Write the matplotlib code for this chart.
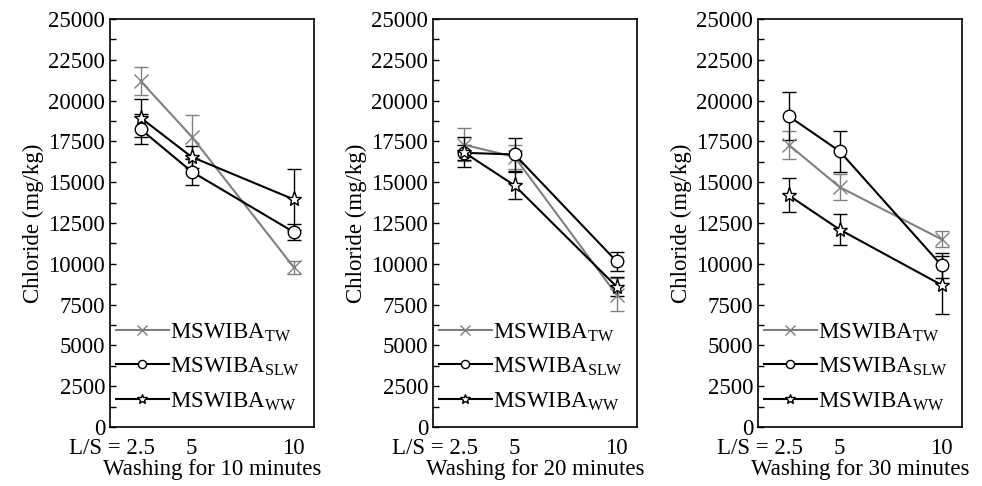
import numpy as np
import matplotlib
matplotlib.use("Agg")
import matplotlib.pyplot as plt
from matplotlib.ticker import MultipleLocator
from matplotlib.transforms import ScaledTranslation
from matplotlib.lines import Line2D

plt.rcParams['font.family'] = ['Liberation Serif', 'DejaVu Serif']
plt.rcParams['mathtext.fontset'] = 'custom'
plt.rcParams['mathtext.rm'] = 'Liberation Serif'
plt.rcParams['font.size'] = 16.5

# L/S ratios
ls_ratio = [2.5, 5, 10]
tick_labels = ['L/S = 2.5', '5', '10']
wash_times = [10, 20, 30]

# chloride (mg/kg) and error bars, one list per panel (10, 20, 30 min)
tw_vals = [[21200, 17800, 9800], [17300, 16550, 8100], [17300, 14700, 11500]]
tw_err = [[850, 1300, 400], [1000, 750, 1000], [850, 800, 500]]
slw_vals = [[18250, 15650, 11950], [16800, 16700, 10150], [19050, 16900, 9900]]
slw_err = [[900, 800, 500], [450, 1000, 600], [1450, 1250, 750]]
ww_vals = [[18950, 16550, 13950], [16850, 14800, 8600], [14200, 12100, 8700]]
ww_err = [[1150, 650, 1850], [900, 800, 600], [1050, 950, 1750]]

series_names = [r'MSWIBA$_{\rm TW}$', r'MSWIBA$_{\rm SLW}$', r'MSWIBA$_{\rm WW}$']

fig = plt.figure(figsize=(9.82, 4.86), dpi=100)
lefts = [110, 433, 758]
gray = '#808080'
styles = [(gray, 'x', 10), ('black', 'o', 9), ('black', '*', 11)]

for i in range(3):
    ax = fig.add_axes([lefts[i] / 982, 59 / 486, 204 / 982, 408 / 486])

    vals = [tw_vals[i], slw_vals[i], ww_vals[i]]
    errs = [tw_err[i], slw_err[i], ww_err[i]]
    for (col, mk, ms), v, e in zip(styles, vals, errs):
        ax.errorbar(ls_ratio, v, yerr=e, color=col, lw=1.5,
                    marker=mk, ms=ms, mew=1, mfc='white', mec=col,
                    elinewidth=1, capsize=5, capthick=1)

    ax.set_xlim(1, 11)
    ax.set_ylim(0, 25000)
    ax.yaxis.set_major_locator(MultipleLocator(2500))
    ax.yaxis.set_minor_locator(MultipleLocator(1250))
    ax.tick_params(axis='y', which='both', direction='in', right=False,
                   length=4.5, width=1)
    ax.set_xticks(ls_ratio)
    ax.set_xticklabels(tick_labels)
    ax.tick_params(axis='x', length=0, pad=8)
    lab = ax.get_xticklabels()[0]
    lab.set_ha('right')
    lab.set_transform(lab.get_transform() + ScaledTranslation(0.144, 0, fig.dpi_scale_trans))

    for s in ax.spines.values():
        s.set_linewidth(1.2)

    ax.set_ylabel('Chloride (mg/kg)', labelpad=3)
    ax.set_xlabel('Washing for %d minutes' % wash_times[i], labelpad=0)

    handles = [Line2D([], [], color=col, lw=1.5, marker=mk, ms=ms * 0.65,
                      mew=1, mfc='white', mec=col) for col, mk, ms in styles]
    ax.legend(handles, series_names, loc='lower left',
              bbox_to_anchor=(0.03, 0.035), frameon=False,
              handlelength=2.3, handletextpad=0.05, labelspacing=0.5,
              borderpad=0, borderaxespad=0, fontsize=16.5)

fig.savefig('out.png', dpi=100)
